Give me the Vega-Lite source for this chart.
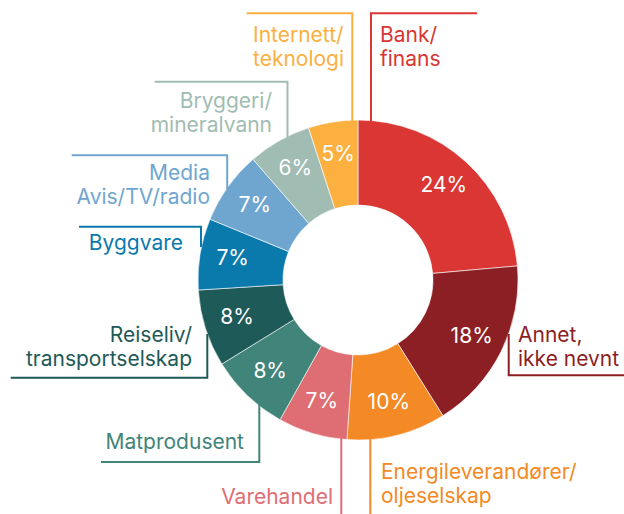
{
  "$schema": "https://vega.github.io/schema/vega-lite/v6.json",
  "width": 624,
  "height": 514,
  "autosize": {"type": "none"},
  "padding": 0,
  "background": "white",
  "view": {"stroke": null},
  "config": {"font": "Inter"},
  "datasets": {
    "shares": [
      {"o": 1, "cat": "Bank/finans", "v": 23.6, "label": "24%"},
      {"o": 2, "cat": "Annet, ikke nevnt", "v": 17.5, "label": "18%"},
      {"o": 3, "cat": "Energileverandører/oljeselskap", "v": 10.0, "label": "10%"},
      {"o": 4, "cat": "Varehandel", "v": 7.0, "label": "7%"},
      {"o": 5, "cat": "Matprodusent", "v": 8.1, "label": "8%"},
      {"o": 6, "cat": "Reiseliv/transportselskap", "v": 7.8, "label": "8%"},
      {"o": 7, "cat": "Byggvare", "v": 7.2, "label": "7%"},
      {"o": 8, "cat": "Media Avis/TV/radio", "v": 7.4, "label": "7%"},
      {"o": 9, "cat": "Bryggeri/mineralvann", "v": 6.4, "label": "6%"},
      {"o": 10, "cat": "Internett/teknologi", "v": 5.0, "label": "5%"}
    ],
    "leaders": [
      {"cat": "Bank/finans", "p": 1, "x": 13, "y": 158},
      {"cat": "Bank/finans", "p": 2, "x": 13, "y": 266.7},
      {"cat": "Bank/finans", "p": 3, "x": 119, "y": 266.7},
      {"cat": "Internett/teknologi", "p": 1, "x": -5.7, "y": 158},
      {"cat": "Internett/teknologi", "p": 2, "x": -5.7, "y": 266.7},
      {"cat": "Internett/teknologi", "p": 3, "x": -111.3, "y": 266.7},
      {"cat": "Bryggeri/mineralvann", "p": 1, "x": -70.5, "y": 142},
      {"cat": "Bryggeri/mineralvann", "p": 2, "x": -70.5, "y": 198.3},
      {"cat": "Bryggeri/mineralvann", "p": 3, "x": -203.3, "y": 198.3},
      {"cat": "Media Avis/TV/radio", "p": 1, "x": -130.8, "y": 91},
      {"cat": "Media Avis/TV/radio", "p": 2, "x": -130.8, "y": 124.7},
      {"cat": "Media Avis/TV/radio", "p": 3, "x": -286.3, "y": 124.7},
      {"cat": "Byggvare", "p": 1, "x": -157, "y": 33},
      {"cat": "Byggvare", "p": 2, "x": -157, "y": 53.3},
      {"cat": "Byggvare", "p": 3, "x": -279, "y": 53.3},
      {"cat": "Reiseliv/transportselskap", "p": 1, "x": -150.7, "y": -54},
      {"cat": "Reiseliv/transportselskap", "p": 2, "x": -150.7, "y": -97.7},
      {"cat": "Reiseliv/transportselskap", "p": 3, "x": -347.3, "y": -97.7},
      {"cat": "Matprodusent", "p": 1, "x": -98.7, "y": -124},
      {"cat": "Matprodusent", "p": 2, "x": -98.7, "y": -182},
      {"cat": "Matprodusent", "p": 3, "x": -257, "y": -182},
      {"cat": "Varehandel", "p": 1, "x": -16.7, "y": -157},
      {"cat": "Varehandel", "p": 2, "x": -16.7, "y": -240},
      {"cat": "Energileverandører/oljeselskap", "p": 1, "x": 12.3, "y": -157},
      {"cat": "Energileverandører/oljeselskap", "p": 2, "x": 12.3, "y": -240},
      {"cat": "Annet, ikke nevnt", "p": 1, "x": 150.7, "y": -54},
      {"cat": "Annet, ikke nevnt", "p": 2, "x": 150.7, "y": -95.3},
      {"cat": "Annet, ikke nevnt", "p": 3, "x": 272, "y": -95.3}
    ],
    "names": [
      {"cat": "Bank/finans", "text": "Bank/\nfinans", "x": 22, "y": 238.3, "al": "left"},
      {"cat": "Internett/teknologi", "text": "Internett/\nteknologi", "x": -105, "y": 238.3, "al": "left"},
      {"cat": "Bryggeri/mineralvann", "text": "Bryggeri/\nmineralvann", "x": -86, "y": 171.7, "al": "right"},
      {"cat": "Media Avis/TV/radio", "text": "Media\nAvis/TV/radio", "x": -148, "y": 100, "al": "right"},
      {"cat": "Byggvare", "text": "Byggvare", "x": -175, "y": 30, "al": "right"},
      {"cat": "Reiseliv/transportselskap", "text": "Reiseliv/\ntransportselskap", "x": -166, "y": -62, "al": "right"},
      {"cat": "Matprodusent", "text": "Matprodusent", "x": -114, "y": -168.7, "al": "right"},
      {"cat": "Varehandel", "text": "Varehandel", "x": -25, "y": -223.7, "al": "right"},
      {"cat": "Energileverandører/oljeselskap", "text": "Energileverandører/\noljeselskap", "x": 23, "y": -198.7, "al": "left"},
      {"cat": "Annet, ikke nevnt", "text": "Annet,\nikke nevnt", "x": 160, "y": -62, "al": "left"}
    ]
  },
  "layer": [
    {
      "data": {"name": "shares"},
      "mark": {"type": "arc", "outerRadius": 160, "innerRadius": 75, "stroke": "white", "strokeWidth": 0.6},
      "encoding": {
        "theta": {"field": "v", "type": "quantitative", "stack": true},
        "order": {"field": "o", "type": "quantitative"},
        "color": {
          "field": "cat", "type": "nominal", "legend": null,
          "scale": {
            "domain": ["Bank/finans", "Annet, ikke nevnt", "Energileverandører/oljeselskap", "Varehandel", "Matprodusent", "Reiseliv/transportselskap", "Byggvare", "Media Avis/TV/radio", "Bryggeri/mineralvann", "Internett/teknologi"],
            "range": ["#d93634", "#8c1f24", "#f38a25", "#df6d74", "#418479", "#1e5a58", "#0a7aad", "#6fa6cf", "#a1bcb3", "#fbb040"]
          }
        },
        "x": {"datum": 0, "type": "quantitative", "scale": {"domain": [-358, 266], "nice": false, "zero": false}, "axis": null},
        "y": {"datum": 0, "type": "quantitative", "scale": {"domain": [-234, 280], "nice": false, "zero": false}, "axis": null}
      }
    },
    {
      "data": {"name": "shares"},
      "mark": {"type": "text", "radius": 127, "fontSize": 21, "color": "white", "align": "center", "baseline": "middle"},
      "encoding": {
        "theta": {"field": "v", "type": "quantitative", "stack": true},
        "order": {"field": "o", "type": "quantitative"},
        "text": {"field": "label"},
        "x": {"datum": 0, "type": "quantitative", "axis": null},
        "y": {"datum": 0, "type": "quantitative", "axis": null}
      }
    },
    {
      "data": {"name": "leaders"},
      "mark": {"type": "line", "strokeWidth": 2, "strokeCap": "butt", "strokeJoin": "miter", "clip": true},
      "encoding": {
        "x": {"field": "x", "type": "quantitative", "axis": null},
        "y": {"field": "y", "type": "quantitative", "axis": null},
        "order": {"field": "p", "type": "quantitative"},
        "detail": {"field": "cat"},
        "color": {"field": "cat", "type": "nominal", "legend": null}
      }
    },
    {
      "data": {"name": "names"},
      "transform": [{"filter": "datum.al === 'left'"}],
      "mark": {"type": "text", "fontSize": 21, "lineHeight": 24, "baseline": "alphabetic", "align": "left", "lineBreak": "\n"},
      "encoding": {
        "x": {"field": "x", "type": "quantitative", "axis": null},
        "y": {"field": "y", "type": "quantitative", "axis": null},
        "text": {"field": "text"},
        "color": {"field": "cat", "type": "nominal", "legend": null}
      }
    },
    {
      "data": {"name": "names"},
      "transform": [{"filter": "datum.al === 'right'"}],
      "mark": {"type": "text", "fontSize": 21, "lineHeight": 24, "baseline": "alphabetic", "align": "right", "lineBreak": "\n"},
      "encoding": {
        "x": {"field": "x", "type": "quantitative", "axis": null},
        "y": {"field": "y", "type": "quantitative", "axis": null},
        "text": {"field": "text"},
        "color": {"field": "cat", "type": "nominal", "legend": null}
      }
    }
  ]
}
